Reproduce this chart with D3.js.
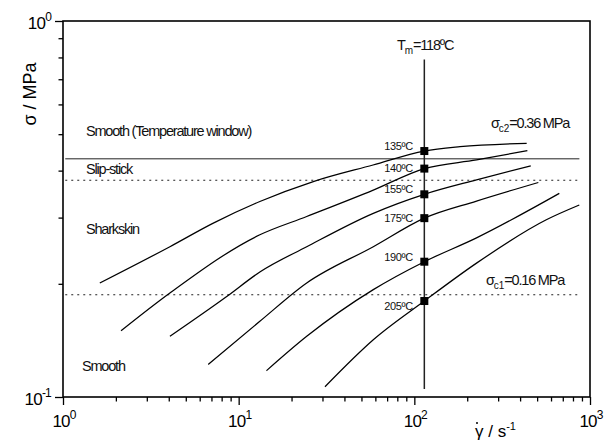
<!DOCTYPE html>
<html lang="en">
<head>
<meta charset="UTF-8">
<title>Flow curves</title>
<script src="https://cdnjs.cloudflare.com/ajax/libs/d3/7.8.5/d3.min.js"></script>
<style>
    body { margin: 0; background: #fff; }
    svg { font-family: "Liberation Sans", Arial, sans-serif; }
    .lbl { font-size: 14.5px; letter-spacing: -1.2px; fill: #111; }
    .tlbl { font-size: 11px; letter-spacing: -0.3px; fill: #111; }
    .tick text { display: none; }
</style>
</head>
<body>
<div id="chart"></div>
<script>
// temperature of each flow curve
var temps = ["135ºC", "140ºC", "155ºC", "175ºC", "190ºC", "205ºC"];

// flow curves: [shear rate 1/s, stress MPa]
var c135 = [[1.62, 0.201], [4.06, 0.251], [7.17, 0.290], [13.2, 0.331], [26.6, 0.374], [58.2, 0.414], [114, 0.451], [182, 0.463], [436, 0.473]];
var c140 = [[2.14, 0.150], [4.06, 0.189], [13.2, 0.270], [24.4, 0.302], [58.4, 0.355], [114, 0.405], [226, 0.427], [440, 0.452]];
var c155 = [[4.06, 0.145], [8.55, 0.185], [13.2, 0.215], [24.4, 0.251], [58.4, 0.308], [114, 0.346], [226, 0.378], [460, 0.412]];
var c175 = [[6.71, 0.122], [13.2, 0.159], [24.4, 0.201], [58.4, 0.251], [114, 0.299], [226, 0.332], [508, 0.372]];
var c190 = [[14.4, 0.1175], [24.4, 0.145], [58.4, 0.193], [114, 0.229], [226, 0.265], [669, 0.348]];
var c205 = [[31, 0.1065], [58.4, 0.142], [114, 0.180], [226, 0.227], [564, 0.296], [869, 0.324]];
var curves = [c135, c140, c155, c175, c190, c205];

// stress at T_m line for each temperature
var markerRate = 114;
var markerSigma = [0.451, 0.405, 0.346, 0.299, 0.229, 0.180];

// boundaries
var windowTop = 0.430;      // solid
var sigmaC2 = 0.377;        // dotted
var sigmaC1 = 0.187;        // dotted
var tmRange = [0.105, 0.79];
var lineRange = [1.03, 890];

var xMajor = [1, 10, 100, 1000];
var yMajor = [0.1, 1];
var xExp = ["0", "1", "2", "3"];
var yExp = ["-1", "0"];

var W = 606, H = 440;
var svg = d3.select("#chart").append("svg").attr("width", W).attr("height", H);

var x = d3.scaleLog().domain([1, 1000]).range([63, 590]);
var y = d3.scaleLog().domain([0.1, 1]).range([397, 21]);

var xTicks = [], yTicks = [];
[1, 10, 100].forEach(function(d){ for (var i = 1; i < 10; i++) xTicks.push(d * i); });
xTicks.push(1000);
for (var i = 1; i <= 10; i++) yTicks.push(i / 10);

// axes
var gx = svg.append("g").attr("transform", "translate(0,397)")
    .call(d3.axisBottom(x).tickValues(xTicks).tickSizeOuter(0));
gx.selectAll(".tick line").attr("y2", function(d){ return xMajor.indexOf(d) > -1 ? 8 : 4.5; })
    .attr("stroke-width", 1.3);
gx.select(".domain").remove();

var gy = svg.append("g").attr("transform", "translate(63,0)")
    .call(d3.axisLeft(y).tickValues(yTicks).tickSizeOuter(0));
gy.selectAll(".tick line").attr("x2", function(d){ return Math.abs(d - 0.1) < 1e-9 || d === 1 ? -8 : -4.5; })
    .attr("stroke-width", 1.3);
gy.select(".domain").remove();

svg.append("rect")
    .attr("x", x(1)).attr("y", y(1))
    .attr("width", x(1000) - x(1)).attr("height", y(0.1) - y(1))
    .attr("fill", "none").attr("stroke", "#000").attr("stroke-width", 1.6);

// tick labels
xMajor.forEach(function(d, i){
    var t = svg.append("text").attr("x", x(d) + 1).attr("y", 427)
        .attr("text-anchor", "middle").style("font-size", "17px").style("letter-spacing", "-0.8px");
    t.append("tspan").text("10");
    t.append("tspan").attr("dy", -8).style("font-size", "12px").text(xExp[i]);
});
yMajor.forEach(function(d, i){
    var t = svg.append("text").attr("x", 51).attr("y", y(d) + 8)
        .attr("text-anchor", "end").style("font-size", "17px").style("letter-spacing", "-0.8px");
    t.append("tspan").text("10");
    t.append("tspan").attr("dy", -8).style("font-size", "12px").text(yExp[i]);
});

// axis titles
svg.append("text").attr("transform", "translate(36,94) rotate(-90)")
    .attr("text-anchor", "middle").style("font-size", "18px").text("σ / MPa");
var xt = svg.append("text").attr("x", 475).attr("y", 437).style("font-size", "17px");
xt.append("tspan").text("γ / s");
xt.append("tspan").attr("dy", -7).style("font-size", "11px").text("-1");
// dot over gamma
svg.append("circle").attr("cx", 477).attr("cy", 423).attr("r", 1).attr("fill", "#000");

// boundary lines
svg.append("line")
    .attr("x1", x(lineRange[0])).attr("x2", x(870))
    .attr("y1", y(windowTop)).attr("y2", y(windowTop))
    .attr("stroke", "#222").attr("stroke-width", 1);
[sigmaC2, sigmaC1].forEach(function(s){
    svg.append("line")
        .attr("x1", x(lineRange[0])).attr("x2", x(lineRange[1]))
        .attr("y1", y(s)).attr("y2", y(s))
        .attr("stroke", "#222").attr("stroke-width", 1.1)
        .attr("stroke-dasharray", "2,4");
});

// T_m line
svg.append("line")
    .attr("x1", x(markerRate)).attr("x2", x(markerRate))
    .attr("y1", y(tmRange[1])).attr("y2", y(tmRange[0]))
    .attr("stroke", "#222").attr("stroke-width", 1.5);

// curves
var line = d3.line()
    .x(function(d){ return x(d[0]); })
    .y(function(d){ return y(d[1]); })
    .curve(d3.curveMonotoneX);
svg.selectAll(".curve").data(curves).enter().append("path")
    .attr("class", "curve")
    .attr("d", line)
    .attr("fill", "none").attr("stroke", "#000").attr("stroke-width", 1.25);

// markers
svg.selectAll(".mk").data(markerSigma).enter().append("rect")
    .attr("class", "mk")
    .attr("x", x(markerRate) - 4).attr("y", function(d){ return y(d) - 4; })
    .attr("width", 8).attr("height", 8).attr("fill", "#000");

// temperature labels
var tdy = [-5.5, -1, -5, 0, -5, 5];
svg.selectAll(".tlbl").data(temps).enter().append("text")
    .attr("class", "tlbl")
    .attr("x", 413).attr("y", function(d, i){ return y(markerSigma[i]) + tdy[i] + 4; })
    .attr("text-anchor", "end").text(function(d){ return d; });

// region labels
svg.append("text").attr("class", "lbl").attr("x", 86).attr("y", 136).text("Smooth (Temperature window)");
svg.append("text").attr("class", "lbl").attr("x", 86).attr("y", 174).text("Slip-stick");
svg.append("text").attr("class", "lbl").attr("x", 86).attr("y", 234).text("Sharkskin");
svg.append("text").attr("class", "lbl").attr("x", 82).attr("y", 371).text("Smooth");

var tm = svg.append("text").attr("class", "lbl").attr("x", 397).attr("y", 50);
tm.append("tspan").text("T");
tm.append("tspan").attr("dy", 4).style("font-size", "10px").style("letter-spacing", "0px").text("m");
tm.append("tspan").attr("dy", -4).text("=118ºC");

[["c2", "=0.36 MPa", 491, 128], ["c1", "=0.16 MPa", 486, 285]].forEach(function(a){
    var t = svg.append("text").attr("class", "lbl").attr("x", a[2]).attr("y", a[3]);
    t.append("tspan").text("σ");
    t.append("tspan").attr("dy", 4).style("font-size", "10px").style("letter-spacing", "0px").text(a[0]);
    t.append("tspan").attr("dy", -4).text(a[1]);
});
</script>
</body>
</html>
